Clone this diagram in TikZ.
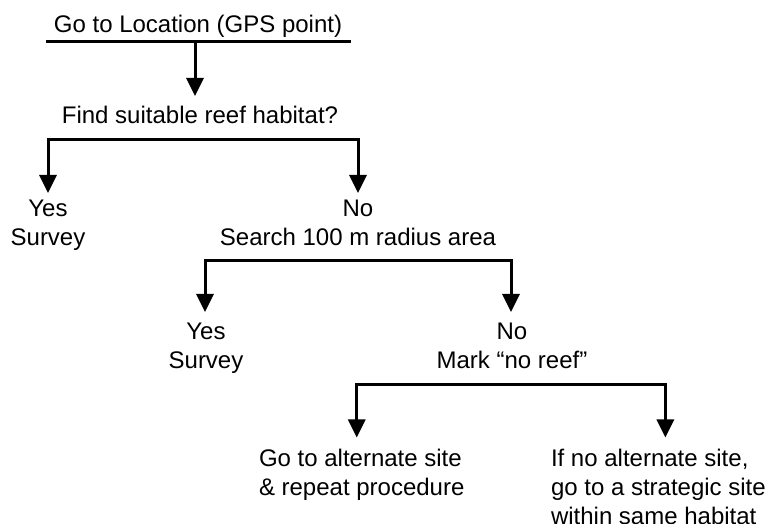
\documentclass[tikz,border=0pt]{standalone}
\usepackage{fontspec}
\setmainfont{Liberation Sans}
\usetikzlibrary{arrows.meta}
\newcommand\tstrut{\rule{0pt}{18pt}}
\begin{document}
\begin{tikzpicture}[x=1pt,y=1pt,
  txt/.style={inner sep=0pt, outer sep=0pt, font=\fontsize{24}{29}\selectfont, align=center, anchor=north},
  ltxt/.style={txt, align=left, anchor=north west},
  ln/.style={line width=3pt},
  arr/.style={ln, -{Triangle[width=17pt,length=18pt]}},
  biarr/.style={ln, {Triangle[width=17pt,length=18pt]}-{Triangle[width=17pt,length=18pt]}}]
\useasboundingbox (0,0) rectangle (769,524);
% texts
\node[txt] (top) at (198,509) {\tstrut Go to Location (GPS point)};
\node[txt] (find) at (200,418) {\tstrut Find suitable reef habitat?};
\node[txt] (yes1) at (48,325) {\tstrut Yes\\Survey};
\node[txt] (no1) at (358,325) {\tstrut No\\Search 100 m radius area};
\node[txt] (yes2) at (206,202) {\tstrut Yes\\Survey};
\node[txt] (no2) at (512,202) {\tstrut No\\Mark “no reef”};
\node[ltxt] (alt) at (259,75) {\tstrut Go to alternate site\\\& repeat procedure};
\node[ltxt] (strat) at (551,75) {\tstrut If no alternate site,\\go to a strategic site\\within same habitat};
% underline and bars
\coordinate (ul) at (46,482);
\coordinate (ur) at (351,482);
\coordinate (u1) at (195,482);
\coordinate (bar1) at (200,384);
\coordinate (bar2) at (360,263);
\coordinate (bar3) at (510,139.5);
\draw[ln] (ul) -- (ur);
\draw[arr] (u1) -- ([xshift=-5pt,yshift=10pt]find.north);
\draw[biarr] ([yshift=6pt]yes1.north) -- (yes1.north |- bar1) -- (no1.north |- bar1) -- ([yshift=6pt]no1.north);
\draw[biarr] ([xshift=-1pt,yshift=10pt]yes2.north) -- ([xshift=-1pt]yes2.north |- bar2) -- ([xshift=-1pt]no2.north |- bar2) -- ([xshift=-1pt,yshift=10pt]no2.north);
\coordinate (a3) at ([xshift=-5pt,yshift=11.5pt]alt.north);
\coordinate (s3) at ([xshift=7pt,yshift=11.5pt]strat.north);
\draw[biarr] (a3) -- (a3 |- bar3) -- (s3 |- bar3) -- (s3);
\end{tikzpicture}
\end{document}
